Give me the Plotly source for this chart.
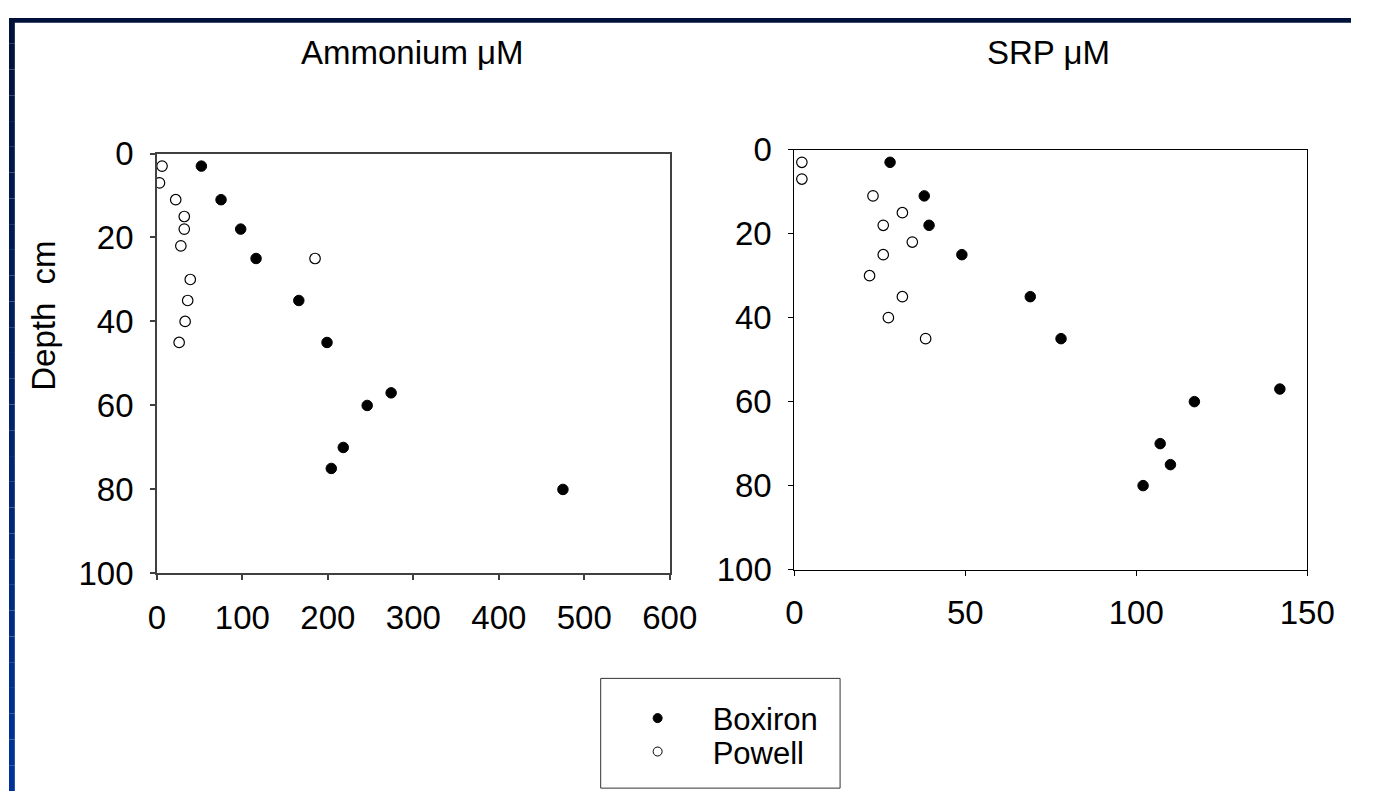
import plotly.graph_objects as go

W, H = 1379, 810

# Pore-water profiles: depth (cm) and concentration (µM)
boxiron_depth = [3, 11, 18, 25, 35, 45, 57, 60, 70, 75, 80]
boxiron_nh4 = [52, 75, 98, 116, 166, 199, 274, 246, 218, 204, 475]
boxiron_srp = [28, 38, 39.4, 49, 69, 78, 142, 117, 107, 110, 102]

powell_depth = [3, 7, 11, 15, 18, 22, 25, 30, 35, 40, 45]
powell_nh4 = [6, 3, 22, 32, 32, 28, 185, 39, 36, 33, 26]
powell_srp = [2.2, 2.2, 23, 31.6, 26, 34.5, 26, 22, 31.6, 27.5, 38.4]

nh4_ticks = [0, 100, 200, 300, 400, 500, 600]
srp_ticks = [0, 50, 100, 150]
depth_ticks = [0, 20, 40, 60, 80, 100]

FONT = "Liberation Sans, Arial, sans-serif"
FS = 33


def px_x(p):
    return p / W


def px_y(p):
    return 1 - p / H


filled = dict(size=10.5, color="black", line=dict(color="black", width=1))
hollow = dict(size=10.5, color="white", line=dict(color="black", width=1.2))

fig = go.Figure()
fig.add_trace(go.Scatter(x=boxiron_nh4, y=boxiron_depth, mode="markers",
                         marker=filled, xaxis="x", yaxis="y", showlegend=False))
fig.add_trace(go.Scatter(x=powell_nh4, y=powell_depth, mode="markers",
                         marker=hollow, xaxis="x", yaxis="y", showlegend=False))
fig.add_trace(go.Scatter(x=boxiron_srp, y=boxiron_depth, mode="markers",
                         marker=filled, xaxis="x2", yaxis="y2", showlegend=False))
fig.add_trace(go.Scatter(x=powell_srp, y=powell_depth, mode="markers",
                         marker=hollow, xaxis="x2", yaxis="y2", showlegend=False))

# legend entries (one legend per row so the rows can sit tightly together)
fig.add_trace(go.Scatter(x=[None], y=[None], mode="markers", name="Boxiron",
                         legend="legend",
                         marker=dict(size=9, color="black", line=dict(color="black", width=1))))
fig.add_trace(go.Scatter(x=[None], y=[None], mode="markers", name="Powell",
                         legend="legend2",
                         marker=dict(size=9, color="white", line=dict(color="black", width=1))))


def axis_style(color, width):
    return dict(
        showline=True, mirror=True, linecolor=color, linewidth=width,
        ticks="outside", ticklen=5, tickwidth=width, tickcolor=color,
        showgrid=False, zeroline=False,
        tickfont=dict(family=FONT, size=FS, color="black"),
    )


legend_common = dict(
    xanchor="left", yanchor="middle",
    font=dict(family=FONT, size=31, color="black"),
    bgcolor="rgba(0,0,0,0)", borderwidth=0, itemwidth=100,
)

fig.update_layout(
    width=W, height=H,
    margin=dict(l=0, r=0, t=0, b=0),
    paper_bgcolor="white", plot_bgcolor="white",
    xaxis=dict(domain=[px_x(152), px_x(679)], range=[0, 600], tickvals=nh4_ticks,
               anchor="y", ticklabelstandoff=9, **axis_style("#404040", 1.5)),
    yaxis=dict(domain=[px_y(582), px_y(142)], range=[100, 0], tickvals=depth_ticks,
               anchor="x", ticklabelstandoff=10, **axis_style("#404040", 1.5)),
    xaxis2=dict(domain=[px_x(807), px_x(1334)], range=[0, 150], tickvals=srp_ticks,
                anchor="y2", ticklabelstandoff=9, **axis_style("black", 1)),
    yaxis2=dict(domain=[px_y(578), px_y(138)], range=[100, 0], tickvals=depth_ticks,
                anchor="x2", ticklabelstandoff=10, **axis_style("black", 1)),
    legend=dict(x=px_x(610), y=px_y(734), **legend_common),
    legend2=dict(x=px_x(610), y=px_y(769), **legend_common),
    showlegend=True,
)

ann_font = dict(family=FONT, size=FS, color="black")
fig.add_annotation(text="Ammonium μM", x=px_x(415), y=px_y(36), xref="paper", yref="paper",
                   xanchor="center", yanchor="middle", showarrow=False, font=ann_font)
fig.add_annotation(text="SRP μM", x=px_x(1068), y=px_y(36), xref="paper", yref="paper",
                   xanchor="center", yanchor="middle", showarrow=False, font=ann_font)
fig.add_annotation(text="Depth  cm", x=px_x(36), y=px_y(312), xref="paper", yref="paper",
                   xanchor="center", yanchor="middle", showarrow=False, textangle=-90,
                   font=ann_font)

# legend frame
fig.add_shape(type="rect", xref="paper", yref="paper",
              x0=px_x(608), x1=px_x(854), y0=px_y(807), y1=px_y(692),
              line=dict(color="#333333", width=1))

# slide border: dark top band and a left band shading to royal blue
fig.add_shape(type="rect", xref="paper", yref="paper", x0=0, x1=1, y0=px_y(5), y1=1,
              line=dict(width=0), fillcolor="#00113a", layer="above")
n = 30
top_c = (0, 17, 58)
bot_c = (0, 51, 153)
for i in range(n):
    t = i / (n - 1)
    c = tuple(round(top_c[k] + (bot_c[k] - top_c[k]) * t) for k in range(3))
    fig.add_shape(type="rect", xref="paper", yref="paper",
                  x0=0, x1=px_x(6), y0=1 - (i + 1) / n, y1=1 - i / n,
                  line=dict(width=0), fillcolor="rgb(%d,%d,%d)" % c, layer="above")

fig.write_html(
    "out.html",
    post_script="document.body.style.margin='0';document.body.style.overflow='hidden';",
)
